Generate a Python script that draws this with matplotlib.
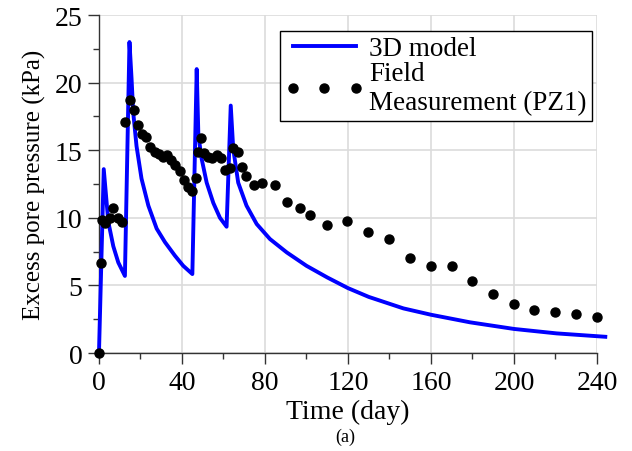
import matplotlib
matplotlib.use("Agg")
import matplotlib.pyplot as plt
from matplotlib.ticker import MultipleLocator

plt.rcParams['font.family'] = ['Liberation Serif', 'DejaVu Serif']

# 3D model curve (day, kPa)
model_day = [0, 2.3, 4.5, 6.9, 9.3, 12.5, 14.7, 15.7, 16.5, 18.1, 20.5, 23.8, 27.8,
             31.8, 36.6, 40.6, 45.0, 47.1, 47.9, 49.5, 51.9, 55.1, 58.3, 61.5,
             63.5, 64.7, 67.1, 71.1, 76, 82.4, 90.5, 100, 110, 120, 130, 146.7,
             160, 178.8, 200, 220.6, 244]
model_kpa = [0, 13.6, 9.7, 7.9, 6.7, 5.7, 23.0, 20.3, 17.8, 15.3, 12.9, 10.9, 9.2,
             8.2, 7.2, 6.45, 5.84, 21.0, 16.1, 14.35, 12.6, 11.1, 10.0, 9.34,
             18.3, 15.1, 12.6, 10.9, 9.54, 8.43, 7.44, 6.45, 5.59, 4.8, 4.15, 3.3,
             2.83, 2.27, 1.78, 1.45, 1.2]

# field measurement PZ1 (day, kPa)
field_day = [0, 0.8, 1.4, 2.7, 5.2, 6.7, 9.2, 11.1, 12.7, 14.8, 16.9, 18.8, 20.7,
             22.8, 24.7, 26.8, 28.9, 30.8, 32.9, 34.9, 36.8, 38.9, 41.0, 42.9,
             44.8, 46.9, 47.5, 49.0, 50.6, 52.7, 54.6, 56.7, 58.6, 60.7, 63.1,
             64.4, 67.1, 68.7, 70.8, 74.8, 78.8, 84.8, 90.8, 96.9, 101.7, 109.7,
             119.7, 129.8, 139.9, 149.9, 159.9, 170, 179.9, 190, 200, 209.8,
             219.9, 229.9, 239.8]
field_kpa = [0, 6.66, 9.84, 9.6, 10.0, 10.7, 10.0, 9.66, 17.06, 18.74, 18.0, 16.9,
             16.2, 15.95, 15.26, 14.84, 14.7, 14.5, 14.66, 14.27, 13.9, 13.43,
             12.8, 12.3, 12.0, 12.94, 14.9, 15.9, 14.8, 14.47, 14.4, 14.64, 14.42,
             13.56, 13.68, 15.14, 14.84, 13.73, 13.06, 12.46, 12.54, 12.45, 11.2,
             10.7, 10.23, 9.5, 9.74, 8.92, 8.43, 7.0, 6.4, 6.4, 5.3, 4.36, 3.6,
             3.18, 3.05, 2.88, 2.68]

fig = plt.figure(figsize=(6.32, 4.52), dpi=100)
ax = fig.add_axes([0.1566, 0.2168, 0.788, 0.7478])

ax.plot(model_day, model_kpa, color='#0000ff', lw=2.8, label='3D model',
        clip_on=False, zorder=3)
ax.plot(field_day, field_kpa, 'o', color='black', ms=6.5, ls='none',
        label='Field\nMeasurement (PZ1)', clip_on=False, zorder=4)

ax.set_xlim(0, 240)
ax.set_ylim(0, 25)
ax.xaxis.set_major_locator(MultipleLocator(40))
ax.xaxis.set_minor_locator(MultipleLocator(20))
ax.yaxis.set_major_locator(MultipleLocator(5))
ax.yaxis.set_minor_locator(MultipleLocator(2.5))
ax.grid(True, which='major', color='#dcdcdc', lw=1.2)
ax.set_axisbelow(True)
for s in ['top', 'right']:
    ax.spines[s].set_visible(False)
for s in ['left', 'bottom']:
    ax.spines[s].set_color('#333333')
    ax.spines[s].set_linewidth(1.0)
ax.tick_params(which='major', length=8, width=1, color='#333333', labelsize=20, pad=4)
ax.tick_params(which='minor', length=4, width=1, color='#333333')

ax.set_xlabel('Time (day)', fontsize=20, labelpad=3)
ax.set_ylabel('Excess pore pressure (kPa)', fontsize=18, labelpad=6)

leg = ax.legend(loc='upper right', bbox_to_anchor=(0.99, 0.953), fontsize=19.5,
                numpoints=3, handlelength=2.9, handletextpad=0.2, borderpad=0.2,
                labelspacing=0.0, fancybox=False, framealpha=1, borderaxespad=0)
leg.get_frame().set_edgecolor('black')
leg.get_frame().set_linewidth(1.0)

fig.text(0.547, 0.033, '(a)', fontsize=13, ha='center', va='center')

fig.savefig('out.png', dpi=100)
